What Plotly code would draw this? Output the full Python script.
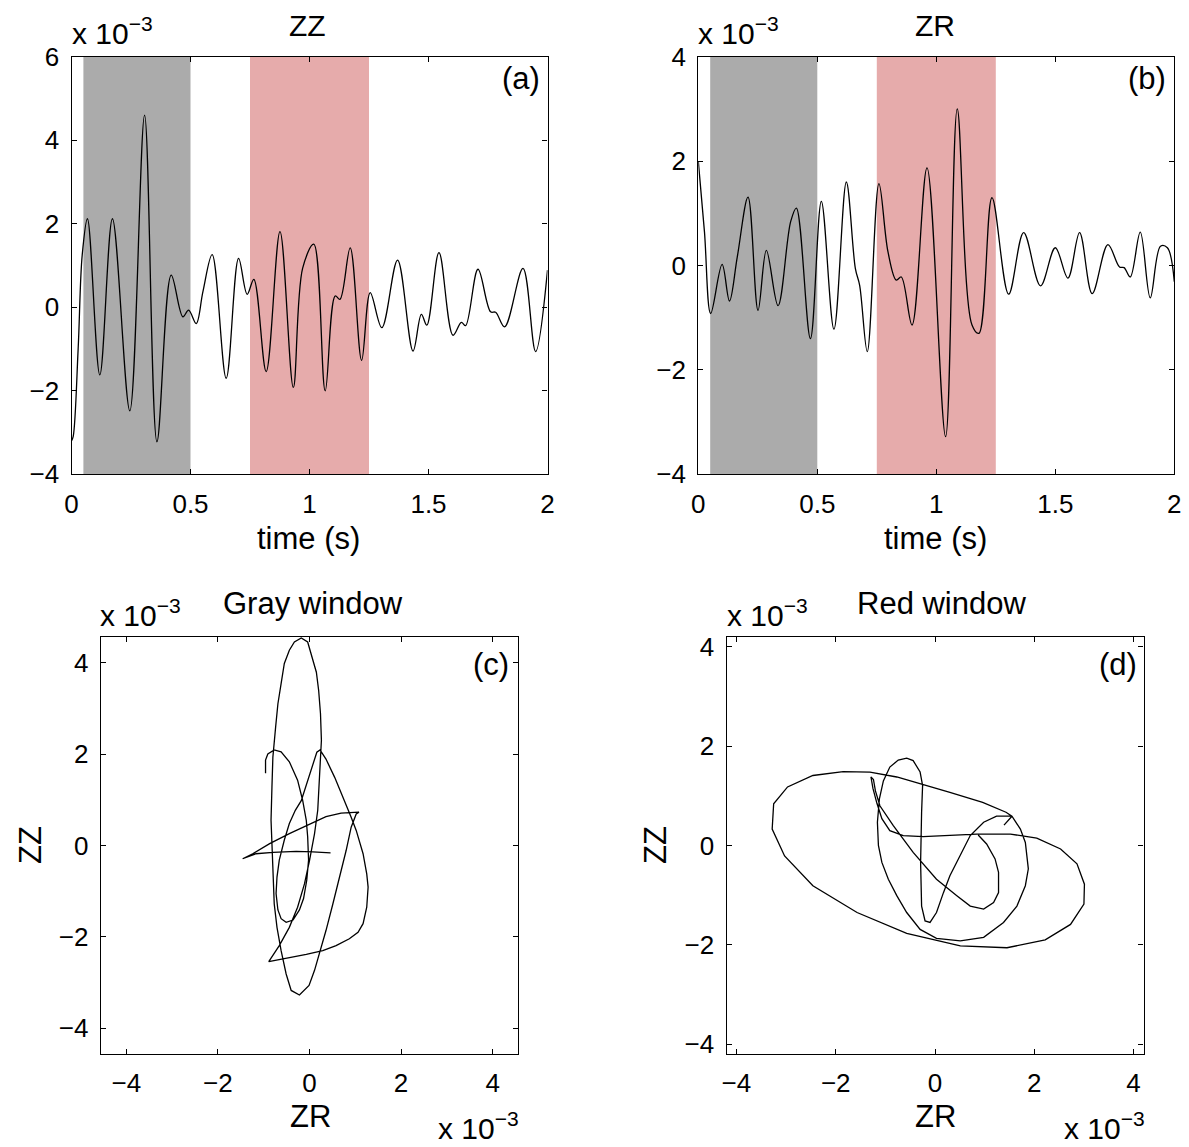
import plotly.graph_objects as go

W, H = 1189, 1147          # reference picture size
OFF = 8                    # page body margin in the browser
FIG_W, FIG_H = W - OFF, H - OFF

# ---------------- data (values in units of 1e-3) ----------------
# Panel (a): ZZ component vs time
zz_t = [0.0, 0.007, 0.028, 0.045, 0.067, 0.119, 0.172, 0.245, 0.307, 0.359, 0.419, 0.468,
        0.492, 0.524, 0.552, 0.591, 0.650, 0.702, 0.738, 0.766, 0.818, 0.876, 0.932, 0.971,
        1.018, 1.066, 1.108, 1.128, 1.171, 1.219, 1.255, 1.304, 1.370, 1.435, 1.470, 1.493,
        1.544, 1.603, 1.638, 1.656, 1.708, 1.761, 1.782, 1.820, 1.897, 1.950, 2.0]
zz_v = [-3.2, -3.1, -0.99, 1.25, 2.12, -1.62, 2.12, -2.48, 4.6, -3.22, 0.77, -0.23,
        -0.07, -0.39, 0.37, 1.26, -1.70, 1.17, 0.31, 0.67, -1.54, 1.81, -1.92, 0.93,
        1.51, -2.0, 0.27, 0.19, 1.42, -1.27, 0.35, -0.49, 1.13, -1.05, -0.17, -0.43,
        1.31, -0.67, -0.36, -0.44, 0.91, -0.11, -0.12, -0.47, 0.93, -1.06, 0.89]

# Panel (b): ZR component vs time
zr_t = [0.0, 0.026, 0.052, 0.100, 0.131, 0.164, 0.209, 0.251, 0.286, 0.335, 0.388, 0.412,
        0.471, 0.517, 0.570, 0.622, 0.660, 0.678, 0.710, 0.759, 0.797, 0.832, 0.853, 0.898,
        0.961, 1.039, 1.088, 1.150, 1.179, 1.234, 1.304, 1.367, 1.438, 1.500, 1.553, 1.602,
        1.655, 1.721, 1.770, 1.789, 1.815, 1.857, 1.899, 1.942, 1.971, 2.0]
zr_v = [2.0, 0.64, -0.92, 0.02, -0.68, 0.17, 1.31, -0.86, 0.29, -0.77, 0.84, 1.10,
        -1.40, 1.23, -1.22, 1.60, -0.06, -0.38, -1.65, 1.57, 0.26, -0.28, -0.22, -1.14,
        1.87, -3.28, 3.0, -1.14, -1.30, 1.30, -0.55, 0.63, -0.39, 0.34, -0.24, 0.63,
        -0.54, 0.40, -0.03, -0.04, -0.22, 0.64, -0.62, 0.37, 0.34, -0.31]

# Windows (s)
gray_window = [0.05, 0.5]
red_window = [0.75, 1.25]

# Panel (c): particle motion, gray window
c_zr = [-0.96, -0.96, -0.91, -0.77, -0.62, -0.44, -0.26, -0.15, -0.07, -0.04, -0.02, -0.06,
        -0.13, -0.22, -0.36, -0.51, -0.62, -0.69, -0.73, -0.71, -0.66, -0.55, -0.44, -0.31,
        -0.18, 0.0, 0.16, 0.23, 0.36, 0.55, 0.77, 0.91, 1.02, 1.17, 1.25, 1.28, 1.25, 1.17,
        1.06, 0.87, 0.58, 0.29, -0.07, -0.51, -0.89, -0.66, -0.44, -0.26, -0.11, 0.0, 0.11,
        0.18, 0.22, 0.26, 0.24, 0.20, 0.15, 0.04, -0.04, -0.18, -0.33, -0.44, -0.55, -0.62,
        -0.69, -0.74, -0.80, -0.82, -0.84, -0.82, -0.80, -0.77, -0.71, -0.62, -0.51, -0.40,
        -0.22, -0.01, 0.11, 0.22, 0.36, 0.51, 0.66, 0.80, 0.91, 1.02, 1.08, 0.69, 0.36, 0.0,
        -0.44, -0.87, -1.24, -1.46, -1.17, -0.80, -0.29, 0.07, 0.46]
c_zz = [1.58, 1.87, 2.0, 2.09, 2.05, 1.83, 1.43, 0.99, 0.55, 0.19, -0.32, -0.76,
        -1.16, -1.41, -1.63, -1.68, -1.60, -1.41, -1.05, -0.69, -0.32, 0.12, 0.48, 0.77,
        0.98, 1.57, 2.04, 2.09, 1.89, 1.49, 0.98, 0.62, 0.33, -0.18, -0.62, -0.91, -1.35, -1.71,
        -1.90, -2.04, -2.19, -2.30, -2.38, -2.46, -2.54, -2.19, -1.79, -1.35, -0.84, -0.33, 0.26,
        0.77, 1.42, 2.30, 2.88, 3.39, 3.79, 4.19, 4.45, 4.54, 4.45, 4.27, 3.98, 3.54,
        3.10, 2.59, 1.93, 1.28, 0.55, 0.04, -0.69, -1.28, -1.79, -2.30, -2.81, -3.17,
        -3.27, -3.06, -2.73, -2.37, -1.86, -1.28, -0.69, -0.11, 0.40, 0.69, 0.73, 0.71, 0.63, 0.47,
        0.26, 0.04, -0.18, -0.29, -0.18, -0.15, -0.13, -0.14, -0.16]

# Panel (d): particle motion, red window
d_zr = [1.39, 1.55, 1.24, 0.98, 0.71, 0.51, 0.30, 0.17, 0.03, -0.10, -0.20, -0.27, -0.29,
        -0.27, -0.25, -0.30, -0.44, -0.57, -0.74, -0.91, -1.04, -1.12, -1.16, -1.14, -1.07,
        -0.94, -0.77, -0.57, -0.30, 0.03, 0.51, 0.98, 1.38, 1.65, 1.82, 1.88, 1.82, 1.72, 1.55,
        1.43, 0.96, 0.30, -0.77, -1.31, -1.85, -2.46, -2.97, -3.25, -3.28, -3.03, -2.46, -1.57,
        -0.57, 0.51, 1.45, 2.22, 2.73, 3.0, 3.01, 2.86, 2.53, 2.05, 1.52, 0.84, 0.17, -0.24,
        -0.64, -0.91, -1.07, -1.17, -1.25, -1.29, -1.24, -1.20, -1.11, -0.84, -0.44, 0.03, 0.44,
        0.71, 0.98, 1.18, 1.28, 1.28, 1.21, 1.04, 0.87]
d_zz = [0.41, 0.59, 0.59, 0.47, 0.20, -0.21, -0.61, -0.95, -1.35, -1.55, -1.52, -1.22, -0.34,
        0.67, 1.21, 1.48, 1.71, 1.76, 1.72, 1.58, 1.30, 0.94, 0.47, 0.0, -0.34,
        -0.68, -1.01, -1.35, -1.69, -1.87, -1.92, -1.85, -1.55, -1.22, -0.81, -0.47, 0.06, 0.33, 0.59,
        0.67, 0.87, 1.07, 1.38, 1.48, 1.49, 1.41, 1.18, 0.84, 0.33, -0.21, -0.81, -1.35,
        -1.77, -2.02, -2.06, -1.90, -1.59, -1.18, -0.78, -0.37, -0.07, 0.15, 0.23, 0.23, 0.19, 0.18,
        0.20, 0.30, 0.54, 0.85, 1.15, 1.38, 1.33, 1.10, 0.80, 0.40, -0.14, -0.68, -1.01,
        -1.22, -1.28, -1.15, -0.95, -0.54, -0.27, 0.03, 0.21]

x_ticks_t = [0, 0.5, 1, 1.5, 2]
x_tick_labels_t = ["0", "0.5", "1", "1.5", "2"]
pm_ticks = [-4, -2, 0, 2, 4]

GRAY = "#ababab"
PINK = "#e6abab"
FONT = "Liberation Sans, Arial, Helvetica, sans-serif"


def px_x(x):
    return (x - OFF) / FIG_W


def px_y(y):
    return 1 - (y - OFF) / FIG_H


boxes = {
    "a": (71.5, 547.5, 56.7, 474.3),
    "b": (698.3, 1174.3, 56.7, 474.3),
    "c": (100.7, 518.3, 637.0, 1054.0),
    "d": (726.5, 1143.5, 637.0, 1054.0),
}


def dom(key):
    x0, x1, y0, y1 = boxes[key]
    return [px_x(x0), px_x(x1)], [px_y(y1), px_y(y0)]


fig = go.Figure()

fig.add_trace(go.Scatter(x=zz_t, y=zz_v, mode="lines",
                         line=dict(color="black", width=1.3, shape="spline", smoothing=1.0),
                         xaxis="x", yaxis="y", showlegend=False))
fig.add_trace(go.Scatter(x=zr_t, y=zr_v, mode="lines",
                         line=dict(color="black", width=1.3, shape="spline", smoothing=1.0),
                         xaxis="x2", yaxis="y2", showlegend=False))
fig.add_trace(go.Scatter(x=c_zr, y=c_zz, mode="lines", line=dict(color="black", width=1.3),
                         xaxis="x3", yaxis="y3", showlegend=False))
fig.add_trace(go.Scatter(x=d_zr, y=d_zz, mode="lines", line=dict(color="black", width=1.3),
                         xaxis="x4", yaxis="y4", showlegend=False))

axis_common = dict(showline=True, linecolor="black", linewidth=1.2, mirror="ticks",
                   ticks="inside", ticklen=5, tickwidth=1, tickcolor="black",
                   showgrid=False, zeroline=False, automargin=False,
                   tickfont=dict(family=FONT, size=26, color="black"))

layout = dict(width=FIG_W, height=FIG_H, margin=dict(l=0, r=0, t=0, b=0, pad=0, autoexpand=False),
              template="none",
              paper_bgcolor="white", plot_bgcolor="white", showlegend=False)

for i, key in enumerate(["a", "b", "c", "d"], start=1):
    xd, yd = dom(key)
    sx = "" if i == 1 else str(i)
    xa = dict(axis_common, domain=xd, anchor="y" + sx, ticklabelstandoff=6)
    ya = dict(axis_common, domain=yd, anchor="x" + sx, ticklabelstandoff=6)
    if key in ("a", "b"):
        xa.update(range=[0, 2], tickvals=x_ticks_t, ticktext=x_tick_labels_t)
        if key == "a":
            ya.update(range=[-4, 6], tickvals=[-4, -2, 0, 2, 4, 6])
        else:
            ya.update(range=[-4, 4], tickvals=[-4, -2, 0, 2, 4])
    else:
        r = 4.56 if key == "c" else 4.2
        xa.update(range=[-r, r], tickvals=pm_ticks)
        ya.update(range=[-r, r], tickvals=pm_ticks)
    layout["xaxis" + sx] = xa
    layout["yaxis" + sx] = ya

fig.update_layout(**layout)

# window shading
for xr, yr in (("x", "y domain"), ("x2", "y2 domain")):
    fig.add_shape(type="rect", xref=xr, yref=yr, x0=gray_window[0], x1=gray_window[1], y0=0, y1=1,
                  fillcolor=GRAY, line=dict(width=0), layer="below")
    fig.add_shape(type="rect", xref=xr, yref=yr, x0=red_window[0], x1=red_window[1], y0=0, y1=1,
                  fillcolor=PINK, line=dict(width=0), layer="below")


def ann(text, x, y, size, xanchor="center", yanchor="middle", angle=0):
    fig.add_annotation(text=text, x=px_x(x), y=px_y(y), xref="paper", yref="paper",
                       showarrow=False, xanchor=xanchor, yanchor=yanchor, textangle=angle,
                       font=dict(family=FONT, size=size, color="black"))


# titles
ann("ZZ", 307, 26, 30)
ann("ZR", 935, 26, 30)
ann("Gray window", 313, 603, 31)
ann("Red window", 941, 603, 31)
# panel labels
ann("(a)", 521, 78, 31)
ann("(b)", 1147, 78, 31)
ann("(c)", 491, 664, 31)
ann("(d)", 1118, 664, 31)
# axis titles
ann("time (s)", 308, 538, 31)
ann("time (s)", 935, 538, 31)
ann("ZR", 310, 1116, 31)
ann("ZR", 936, 1116, 31)
ann("ZZ", 30, 845, 31, angle=-90)
ann("ZZ", 655, 845, 31, angle=-90)
# exponent notes
exp_txt = "x 10<sup>\u22123</sup>"
ann(exp_txt, 70, 52, 30, xanchor="left", yanchor="bottom")
ann(exp_txt, 696, 52, 30, xanchor="left", yanchor="bottom")
ann(exp_txt, 98, 634, 30, xanchor="left", yanchor="bottom")
ann(exp_txt, 725, 634, 30, xanchor="left", yanchor="bottom")
ann(exp_txt, 521, 1147, 30, xanchor="right", yanchor="bottom")
ann(exp_txt, 1147, 1147, 30, xanchor="right", yanchor="bottom")

fig.write_html("out.html")
